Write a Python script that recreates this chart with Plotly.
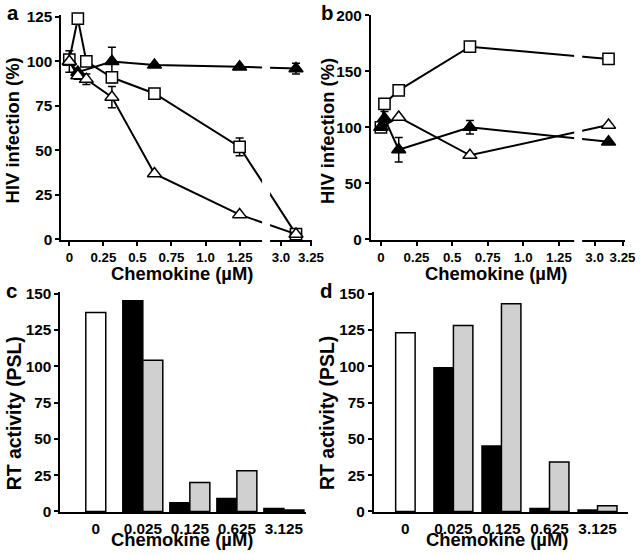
import plotly.graph_objects as go

W, H = 640, 555
FONT = "Liberation Sans, Arial, Helvetica, sans-serif"

# ---------------- data ----------------
# Panel a (HIV infection %, broken x axis)
a_sq_x = [0, 0.0625, 0.125, 0.3125, 0.625, 1.25, 3.125]
a_sq_y = [101, 124, 100, 91, 82, 52, 3]
a_sq_err = [0, 0, 0, 3, 0, 5, 0]
a_otri_x = [0, 0.0625, 0.125, 0.3125, 0.625, 1.25, 3.125]
a_otri_y = [100, 92, 90, 80, 37, 14, 3]
a_otri_err = [6, 2, 3, 6, 0, 0, 0]
a_ftri_x = [0, 0.0625, 0.3125, 0.625, 1.25, 3.125]
a_ftri_y = [100, 94, 100, 98, 97, 96]
a_ftri_err = [0, 0, 8, 0, 0, 3]

# Panel b
b_sq_x = [0, 0.025, 0.125, 0.625, 3.125]
b_sq_y = [100, 121, 133, 172, 161]
b_otri_x = [0, 0.125, 0.625, 3.125]
b_otri_y = [100, 109, 75, 102]
b_ftri_x = [0, 0.025, 0.125, 0.625, 3.125]
b_ftri_y = [100, 108, 80, 100, 87]
b_ftri_err = [0, 6, 11, 6, 0]

line_ticks = [0, 0.25, 0.5, 0.75, 1.0, 1.25, 3.0, 3.25]
line_ticktext = ["0", "0.25", "0.5", "0.75", "1.0", "1.25", "3.0", "3.25"]

# Panels c, d (RT activity, PSL)
bar_cats = ["0", "0.025", "0.125", "0.625", "3.125"]
c_control = [137]
c_black = [145, 6, 9, 2]
c_grey = [104, 20, 28, 1]
d_control = [123]
d_black = [99, 45, 2, 1]
d_grey = [128, 143, 34, 4]


# broken-axis display transform
def make_brk(d3, k):
    def f(x):
        return x if x < 2 else d3 + (x - 3.0) * k
    return f


brk_a = make_brk(1.554, 0.88)
brk_b = make_brk(1.5, 0.785)

# measured page -> picture mapping compensation
SX, BX = 0.9825, -1.4
SY, BY = 0.973, 7.0
FS = 1 / 0.978  # font / marker size compensation


def px(v):
    return ((v - BX) / SX) / W


def py(v):
    return 1 - ((v - BY) / SY) / H


fig = go.Figure()

err_style = dict(type="data", visible=True, thickness=1.5, width=4, color="black")
line_style = dict(color="black", width=2)


def add_series(xs, ys, err, brk, sym, fill, xa, ya, name):
    kw = {}
    if err is not None:
        kw["error_y"] = dict(array=err, **err_style)
    fig.add_trace(go.Scatter(
        x=[brk(v) for v in xs], y=ys, mode="lines+markers", name=name,
        line=line_style,
        marker=dict(symbol=sym, size=(11 if sym == "square" else 12) * FS, color=fill,
                    line=dict(color="black", width=1.5)),
        xaxis=xa, yaxis=ya, showlegend=False, cliponaxis=False, **kw))


add_series(a_ftri_x, a_ftri_y, a_ftri_err, brk_a, "triangle-up", "black", "x", "y", "filled triangle")
add_series(a_sq_x, a_sq_y, a_sq_err, brk_a, "square", "white", "x", "y", "open square")
add_series(a_otri_x, a_otri_y, a_otri_err, brk_a, "triangle-up", "white", "x", "y", "open triangle")

add_series(b_sq_x, b_sq_y, None, brk_b, "square", "white", "x2", "y2", "open square")
add_series(b_otri_x, b_otri_y, None, brk_b, "triangle-up", "white", "x2", "y2", "open triangle")
add_series(b_ftri_x, b_ftri_y, b_ftri_err, brk_b, "triangle-up", "black", "x2", "y2", "filled triangle")


def add_bars(control, black, grey, w, xa, ya):
    fig.add_trace(go.Bar(x=bar_cats[:1], y=control, width=w, offset=-w / 2,
                         marker=dict(color="white", line=dict(color="black", width=1.5)),
                         xaxis=xa, yaxis=ya, showlegend=False, name="control"))
    fig.add_trace(go.Bar(x=bar_cats[1:], y=black, width=w, offset=-w,
                         marker=dict(color="black", line=dict(color="black", width=1.5)),
                         xaxis=xa, yaxis=ya, showlegend=False, name="black"))
    fig.add_trace(go.Bar(x=bar_cats[1:], y=grey, width=w, offset=0,
                         marker=dict(color="#d0d0d0", line=dict(color="black", width=1.5)),
                         xaxis=xa, yaxis=ya, showlegend=False, name="grey"))


add_bars(c_control, c_black, c_grey, 0.425, "x3", "y3")
add_bars(d_control, d_black, d_grey, 0.405, "x4", "y4")

ax_common = dict(showline=True, linecolor="black", linewidth=2, showgrid=False,
                 zeroline=False, ticks="outside", ticklen=4, tickwidth=2,
                 tickcolor="black", fixedrange=True)
bar_x_common = {**ax_common, "tickcolor": "rgba(0,0,0,0)", "ticklen": 2}

tf13 = dict(family=FONT, size=13 * FS, color="black", weight="bold")
tf15 = dict(family=FONT, size=15 * FS, color="black", weight="bold")

top_dom = [py(240), py(15)]
bot_dom = [py(512), py(292)]

fig.update_layout(
    width=W, height=H, margin=dict(l=0, r=0, t=0, b=0),
    paper_bgcolor="white", plot_bgcolor="white", showlegend=False,
    barmode="overlay",
    xaxis=dict(domain=[px(60), px(311)], range=[-0.0587, 1.7815], anchor="y",
               tickvals=[brk_a(v) for v in line_ticks], ticktext=line_ticktext,
               tickfont=tf13, **ax_common),
    yaxis=dict(domain=top_dom, range=[-0.28, 126.1], anchor="x",
               tickvals=[0, 25, 50, 75, 100, 125], tickfont=tf15, **ax_common),
    xaxis2=dict(domain=[px(370), px(624)], range=[-0.0701, 1.711], anchor="y2",
                tickvals=[brk_b(v) for v in line_ticks], ticktext=line_ticktext,
                tickfont=tf13, **ax_common),
    yaxis2=dict(domain=top_dom, range=[-0.625, 200.27], anchor="x2",
                tickvals=[0, 50, 100, 150, 200], tickfont=tf15, **ax_common),
    xaxis3=dict(domain=[px(59), px(305)], range=[-0.754, 4.47], anchor="y3",
                type="category", categoryorder="array", categoryarray=bar_cats,
                tickfont=tf15, **bar_x_common),
    yaxis3=dict(domain=bot_dom, range=[-0.34, 151.06], anchor="x3",
                tickvals=[0, 25, 50, 75, 100, 125, 150], tickfont=tf15, **ax_common),
    xaxis4=dict(domain=[px(373), px(627)], range=[-0.655, 4.626], anchor="y4",
                type="category", categoryorder="array", categoryarray=bar_cats,
                tickfont=tf15, **bar_x_common),
    yaxis4=dict(domain=bot_dom, range=[-0.34, 151.06], anchor="x4",
                tickvals=[0, 25, 50, 75, 100, 125, 150], tickfont=tf15, **ax_common),
)

# axis breaks (white gaps over lines and axis)
for x0, x1 in [(261, 269), (573.5, 581.5)]:
    fig.add_shape(type="rect", xref="paper", yref="paper",
                  x0=px(x0), x1=px(x1), y0=py(243), y1=py(10),
                  fillcolor="white", line=dict(width=0), layer="above")

ann = []


def add_text(t, x, y, size, angle=0):
    ann.append(dict(text=t, x=px(x), y=py(y), xref="paper", yref="paper",
                    showarrow=False, textangle=angle, xanchor="center", yanchor="middle",
                    font=dict(family=FONT, size=size * FS, color="black", weight="bold")))


add_text("a", 12, 13, 20)
add_text("b", 326, 13, 20)
add_text("c", 10, 291, 20)
add_text("d", 325, 291, 20)
add_text("HIV infection (%)", 12, 130, 18, -90)
add_text("HIV infection (%)", 327, 131, 18, -90)
add_text("RT activity (PSL)", 13, 413, 19, -90)
add_text("RT activity (PSL)", 326, 413, 19, -90)
add_text("Chemokine (µM)", 181, 274, 18)
add_text("Chemokine (µM)", 495, 274, 18)
add_text("Chemokine (µM)", 181, 540, 18)
add_text("Chemokine (µM)", 496, 540, 18)
fig.update_layout(annotations=ann)

fig.write_html(
    "out.html",
    config={"displayModeBar": False},
    post_script="document.body.style.margin='0';document.body.style.padding='0';"
                "document.body.style.overflow='hidden';",
)
